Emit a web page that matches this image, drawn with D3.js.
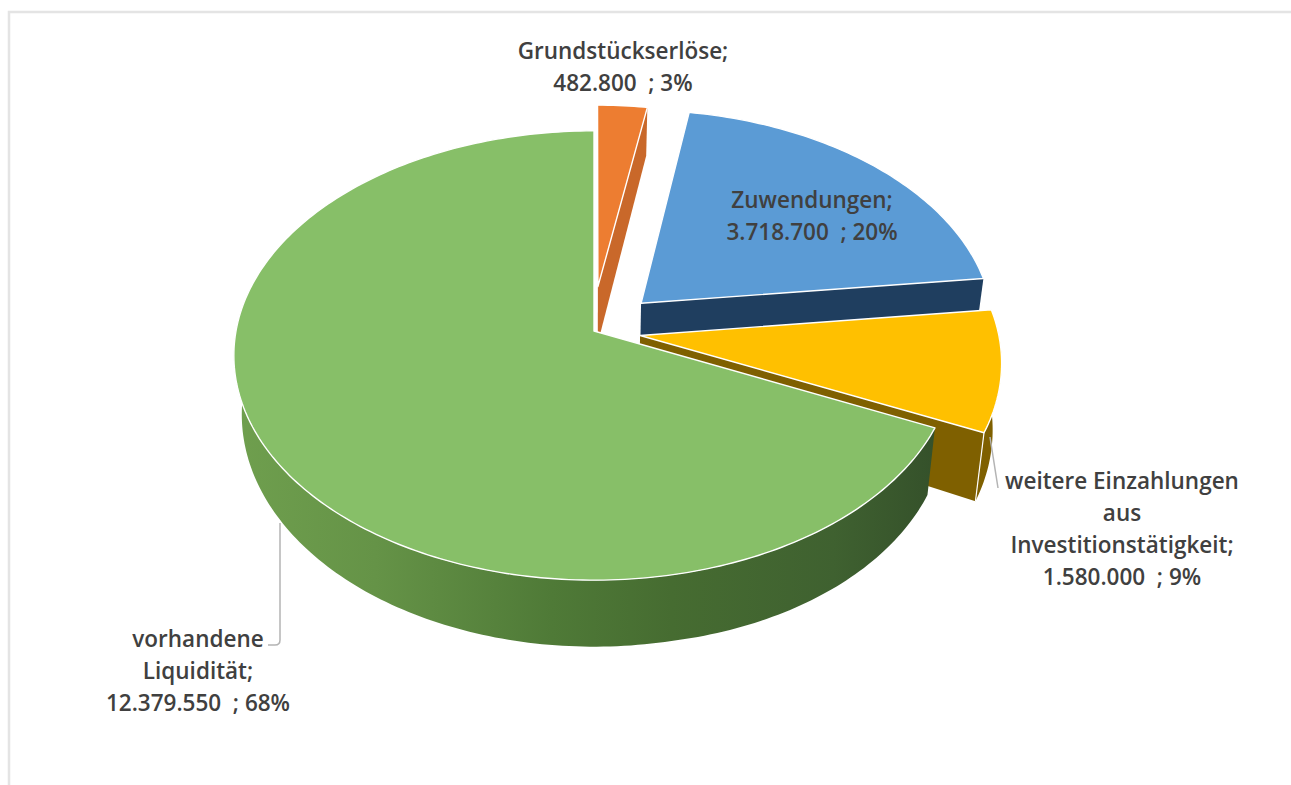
<!DOCTYPE html>
<html><head><meta charset="utf-8">
<script src="https://cdn.jsdelivr.net/npm/d3@7"></script>
<style>html,body{margin:0;padding:0;background:#fff;overflow:hidden}svg{display:block}</style>
</head><body><svg id="c" width="1291" height="785"></svg>
<script>
// data
const names = [["Grundstückserlöse;"], ["Zuwendungen;"], ["weitere Einzahlungen","aus","Investitionstätigkeit;"], ["vorhandene","Liquidität;"]];
const values = [482800, 3718700, 1580000, 12379550];
const percents = [3, 20, 9, 68];
// style / layout
const topColors = ["#ed7d31", "#5b9bd5", "#ffc000", "#87bf68"];
const wallColors = ["#c9682a", "#1f3e5f", "#7f6000", "url(#gw)"];
const explode = [0.205, 0.184, 0.13, 0];
const nudge = [-0.006, 0, 0, 0];
const radius = [0.94, 0.99, 1.0, 1];
const labelAnchor = [[623, 59], [812, 208], [1122, 489], [198, 647]];
const lineGap = 32;

const svg = d3.select("#c");
const defs = svg.append("defs");
const grad = defs.append("linearGradient").attr("id", "gw").attr("gradientUnits", "userSpaceOnUse")
  .attr("x1", 234).attr("x2", 940).attr("y1", 0).attr("y2", 0);
[[0, "#6f9f4e"], [0.2, "#659347"], [0.45, "#4f7a37"], [0.62, "#466c31"], [0.85, "#3f6130"], [1, "#34502a"]]
  .forEach(s => grad.append("stop").attr("offset", s[0]).attr("stop-color", s[1]));

// frame
svg.append("path").attr("d", "M9,785V12H1291").attr("fill", "none").attr("stroke", "#e4e4e4").attr("stroke-width", 2.5);

// projection of the tilted disc (u: right, v: back, z: 0 top, 1 bottom)
const CX = 594, CY = 331, A = 222, B = 358, K = 0.109;
function proj(u, v, z) {
  const w = 1 + K * v;
  const x = CX + B * u / w * (1 - 0.022 * z);
  const y = CY - A * v / w + z * (58 - 8.5 * v + 8 * Math.max(0, u - 0.2));
  return [x, y];
}
const pie = d3.pie().sort(null).value(d => d).startAngle(0).endAngle(2 * Math.PI);
const arcs = pie(values);
const line = d3.line();
const step = Math.PI / 180;

arcs.forEach((d, i) => {
  const mid = (d.startAngle + d.endAngle) / 2;
  const du = explode[i] * Math.sin(mid) + nudge[i], dv = explode[i] * Math.cos(mid), r = radius[i];
  const pt = (a, z) => proj(du + r * Math.sin(a), dv + r * Math.cos(a), z);
  const apex = z => proj(du, dv, z);
  const sweep = (a0, a1) => d3.range(a0, a1, step).concat([a1]);
  const g = svg.append("g");
  const wall = pts => g.append("path").attr("d", line(pts) + "Z").attr("fill", wallColors[i]);

  // outer wall (front half only)
  const a0 = Math.max(d.startAngle, Math.PI / 2 - 0.02), a1 = Math.min(d.endAngle, 1.5 * Math.PI + 0.2);
  // cut walls: the clockwise-end cut faces the viewer for back and right slices
  if (i < 3) {
    wall([apex(0), pt(d.endAngle, 0), pt(d.endAngle, 1), apex(1)]);
  }
  if (a1 > a0) {
    const s = sweep(a0, a1);
    wall(s.map(a => pt(a, 0)).concat(s.slice().reverse().map(a => pt(a, 1))));
    if (i === 2) {
      g.append("path").attr("d", line([pt(d.endAngle, 0), pt(d.endAngle, 1)])).attr("stroke", "#fff").attr("stroke-width", 1.2).attr("fill", "none");
    }
  }
  // top surface
  const s = sweep(d.startAngle, d.endAngle);
  g.append("path").attr("d", line([apex(0)].concat(s.map(a => pt(a, 0)))) + "Z")
    .attr("fill", topColors[i]).attr("stroke", "#fff").attr("stroke-width", 1.4).attr("stroke-linejoin", "round");
});

// leader lines
svg.append("path").attr("d", "M990,437L998,488").attr("fill", "none").attr("stroke", "#b4b4b4").attr("stroke-width", 1.5);
svg.append("path").attr("d", "M280,523V640Q280,645 275,645H268").attr("fill", "none").attr("stroke", "#b4b4b4").attr("stroke-width", 1.5);

// labels
const fmt = d3.formatLocale({decimal: ",", thousands: ".", grouping: [3], currency: ["", ""]}).format(",d");
names.forEach((lines, i) => {
  const all = lines.concat([fmt(values[i]) + "  ; " + percents[i] + "%"]);
  const t = svg.append("text").attr("text-anchor", "middle")
    .attr("font-family", "'Open Sans', sans-serif").attr("font-weight", 600).attr("font-size", 22.5)
    .attr("fill", "#404040").attr("xml:space", "preserve").style("white-space", "pre");
  all.forEach((l, k) => t.append("tspan").attr("x", labelAnchor[i][0]).attr("y", labelAnchor[i][1] + k * lineGap).text(l));
});
</script></body></html>
